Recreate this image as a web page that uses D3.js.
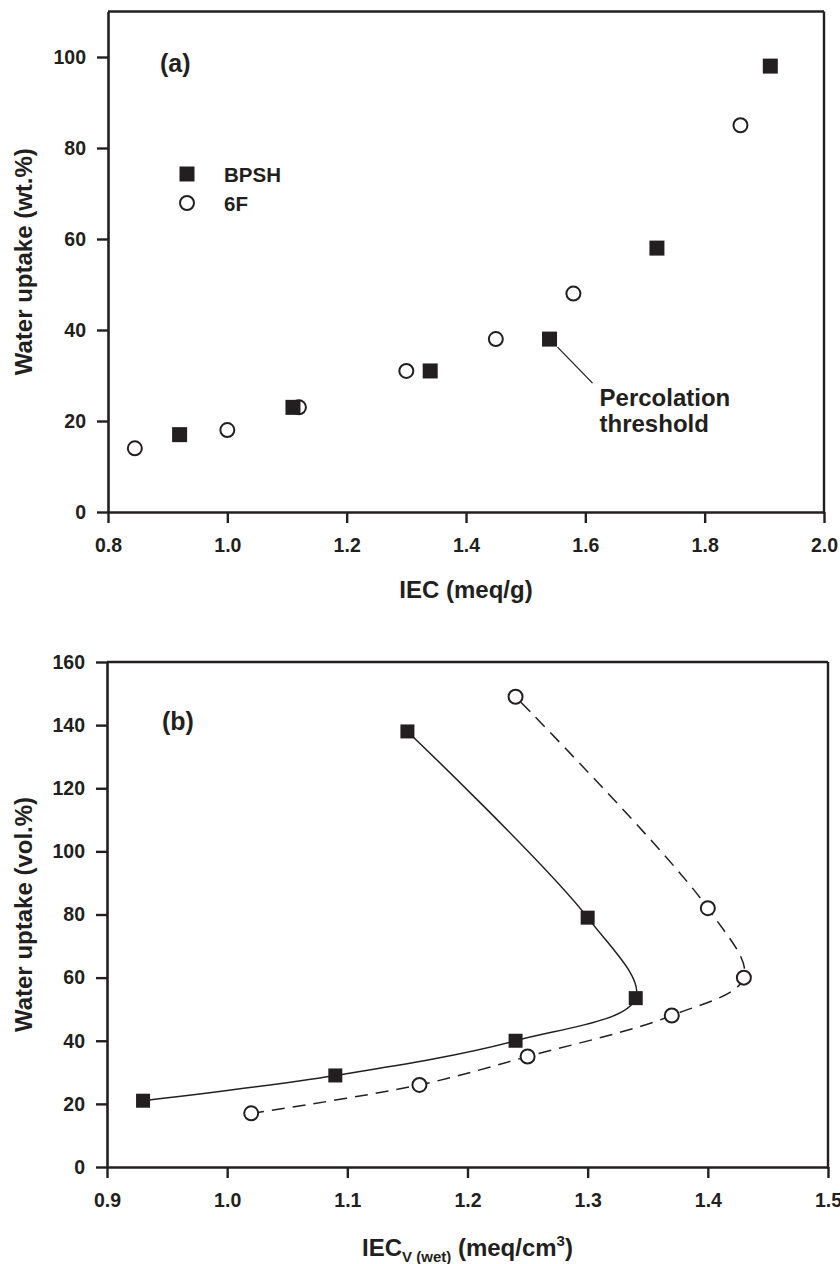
<!DOCTYPE html>
<html><head><meta charset="utf-8">
<script src="https://cdn.jsdelivr.net/npm/d3@7"></script>
<style>
body{margin:0;background:#fff}
svg text{font-family:"Liberation Sans",Arial,Helvetica,sans-serif;font-weight:bold;fill:#231f20}
.tick text{font-size:19.5px}
</style>
</head><body><svg id="c" width="840" height="1264"></svg>
<script>
// ---------- Panel (a): water uptake (wt.%) vs IEC (meq/g) ----------
const aBpshIEC = [0.92, 1.11, 1.34, 1.54, 1.72, 1.91];
const aBpshWU  = [17, 23, 31, 38, 58, 98];
const a6fIEC   = [0.845, 1.00, 1.12, 1.30, 1.45, 1.58, 1.86];
const a6fWU    = [14, 18, 23, 31, 38, 48, 85];
const aXTicks  = [0.8, 1.0, 1.2, 1.4, 1.6, 1.8, 2.0];
const aYTicks  = [0, 20, 40, 60, 80, 100];
const aXTitle  = "IEC (meq/g)";
const aYTitle  = "Water uptake (wt.%)";
const seriesNames = ["BPSH", "6F"];
const annotation = ["Percolation", "threshold"];

// ---------- Panel (b): water uptake (vol.%) vs IECv(wet) ----------
const bBpshIECv = [0.93, 1.09, 1.24, 1.34, 1.30, 1.15];
const bBpshWU   = [21, 29, 40, 53.5, 79, 138];
const b6fIECv   = [1.02, 1.16, 1.25, 1.37, 1.43, 1.40, 1.24];
const b6fWU     = [17, 26, 35, 48, 60, 82, 149];
const bXTicks   = [0.9, 1.0, 1.1, 1.2, 1.3, 1.4, 1.5];
const bYTicks   = [0, 20, 40, 60, 80, 100, 120, 140, 160];
const bYTitle   = "Water uptake (vol.%)";

const INK = "#231f20";
const svg = d3.select("#c");

function zip(xs, ys){ return xs.map((x,i)=>({x, y: ys[i]})); }

function frame(g, x, y, xTicks, yTicks, yFmt){
  const [x0,x1] = x.range(), [y0,y1] = y.range();
  const xa = g.append("g").attr("transform",`translate(0,${y0})`)
    .call(d3.axisBottom(x).tickValues(xTicks).tickFormat(d3.format(".1f"))
      .tickSize(11).tickPadding(15).tickSizeOuter(0));
  const ya = g.append("g").attr("transform",`translate(${x0},0)`)
    .call(d3.axisLeft(y).tickValues(yTicks).tickFormat(yFmt)
      .tickSize(11).tickPadding(11).tickSizeOuter(0));
  [xa,ya].forEach(a=>{
    a.attr("color", INK).attr("font-size", null).attr("font-family", null);
    a.select(".domain").attr("stroke-width", 2.6);
    a.selectAll(".tick line").attr("stroke-width", 2.4);
  });
  g.append("line").attr("x1",x0).attr("x2",x1).attr("y1",y1).attr("y2",y1)
    .attr("stroke",INK).attr("stroke-width",2.4);
  g.append("line").attr("x1",x1).attr("x2",x1).attr("y1",y1).attr("y2",y0+1.2)
    .attr("stroke",INK).attr("stroke-width",2.4);
}

function squares(g, pts, x, y, s){
  g.selectAll(null).data(pts).enter().append("rect")
    .attr("x", d=>x(d.x)-s/2).attr("y", d=>y(d.y)-s/2)
    .attr("width", s).attr("height", s).attr("fill", INK);
}
function circles(g, pts, x, y, r){
  g.selectAll(null).data(pts).enter().append("circle")
    .attr("cx", d=>x(d.x)).attr("cy", d=>y(d.y)).attr("r", r)
    .attr("fill","#fff").attr("stroke",INK).attr("stroke-width",2);
}

// ===== Panel (a) =====
{
  const g = svg.append("g");
  const x = d3.scaleLinear().domain([0.8, 2.0]).range([108, 824]);
  const y = d3.scaleLinear().domain([0, 110]).range([512, 11.5]);
  frame(g, x, y, aXTicks, aYTicks, d3.format("d"));

  const bp = zip(aBpshIEC, aBpshWU), sf = zip(a6fIEC, a6fWU);
  // annotation leader for percolation threshold (BPSH 1.54)
  const pt = bp[3];
  const px = x(pt.x), py = y(pt.y);
  g.append("line").attr("x1",px+8).attr("y1",py+8).attr("x2",px+43).attr("y2",py+44)
    .attr("stroke",INK).attr("stroke-width",1.3);
  annotation.forEach((t,i)=>g.append("text").attr("x",px+50).attr("y",py+67+i*26)
    .attr("font-size",24).text(t));

  circles(g, sf, x, y, 7);
  squares(g, bp, x, y, 15);

  // legend
  g.append("rect").attr("x",187-7.5).attr("y",174-7.5).attr("width",15).attr("height",15).attr("fill",INK);
  g.append("circle").attr("cx",187).attr("cy",203).attr("r",7).attr("fill","#fff").attr("stroke",INK).attr("stroke-width",2);
  g.append("text").attr("x",224).attr("y",181.5).attr("font-size",20.5).text(seriesNames[0]);
  g.append("text").attr("x",224).attr("y",210.5).attr("font-size",20.5).text(seriesNames[1]);

  g.append("text").attr("x",160).attr("y",72).attr("font-size",25).text("(a)");
  g.append("text").attr("x",(x.range()[0]+x.range()[1])/2).attr("y",598)
    .attr("text-anchor","middle").attr("font-size",24).text(aXTitle);
  g.append("text").attr("transform",`translate(32,${(y.range()[0]+y.range()[1])/2}) rotate(-90)`)
    .attr("text-anchor","middle").attr("font-size",24).text(aYTitle);
}

// ===== Panel (b) =====
{
  const g = svg.append("g");
  const x = d3.scaleLinear().domain([0.9, 1.5]).range([107, 828]);
  const y = d3.scaleLinear().domain([0, 160]).range([1167, 662]);
  frame(g, x, y, bXTicks, bYTicks, d3.format("d"));

  const bp = zip(bBpshIECv, bBpshWU), sf = zip(b6fIECv, b6fWU);
  const line = d3.line().x(d=>x(d.x)).y(d=>y(d.y)).curve(d3.curveCatmullRom.alpha(0.5));
  g.append("path").attr("d", line(bp)).attr("fill","none").attr("stroke",INK).attr("stroke-width",1.5);
  g.append("path").attr("d", line(sf)).attr("fill","none").attr("stroke",INK).attr("stroke-width",1.5)
    .attr("stroke-dasharray","13,8");

  circles(g, sf, x, y, 7);
  squares(g, bp, x, y, 14);

  g.append("text").attr("x",162).attr("y",730).attr("font-size",25).text("(b)");
  const t = g.append("text").attr("x",(x.range()[0]+x.range()[1])/2).attr("y",1256)
    .attr("text-anchor","middle").attr("font-size",24);
  t.append("tspan").text("IEC");
  t.append("tspan").attr("font-size",15).attr("dy",6).text("V (wet)");
  t.append("tspan").attr("dy",-6).text(" (meq/cm");
  t.append("tspan").attr("font-size",15).attr("dy",-10).text("3");
  t.append("tspan").attr("dy",10).text(")");
  g.append("text").attr("transform",`translate(32,${(y.range()[0]+y.range()[1])/2}) rotate(-90)`)
    .attr("text-anchor","middle").attr("font-size",24).text(bYTitle);
}
</script>
</body></html>
